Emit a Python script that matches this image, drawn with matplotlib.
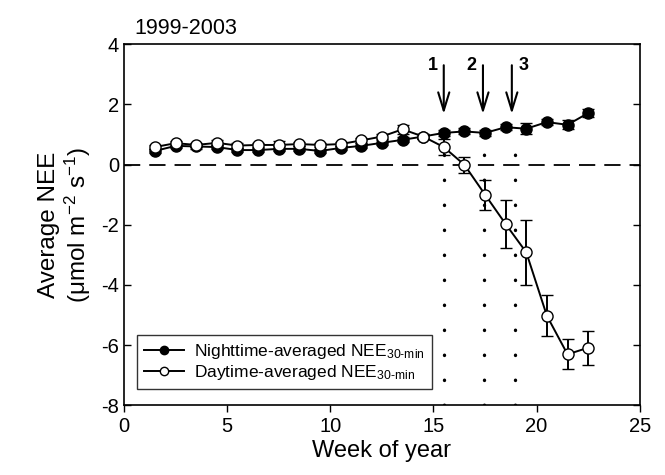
import matplotlib
matplotlib.use("Agg")
import matplotlib.pyplot as plt

plt.rcParams['font.family'] = ['Liberation Sans', 'DejaVu Sans']
plt.rcParams['mathtext.fontset'] = 'custom'
plt.rcParams['mathtext.rm'] = 'Liberation Sans'
plt.rcParams['mathtext.it'] = 'Liberation Sans'
plt.rcParams['axes.unicode_minus'] = False

weeks = [1.5, 2.5, 3.5, 4.5, 5.5, 6.5, 7.5, 8.5, 9.5, 10.5, 11.5,
         12.5, 13.5, 14.5, 15.5, 16.5, 17.5, 18.5, 19.5, 20.5, 21.5, 22.5]

night = [0.45, 0.62, 0.60, 0.58, 0.48, 0.48, 0.52, 0.52, 0.45, 0.55, 0.62,
         0.72, 0.82, 0.93, 1.05, 1.10, 1.05, 1.24, 1.19, 1.41, 1.32, 1.71]
night_err = [0.08, 0.08, 0.08, 0.08, 0.08, 0.08, 0.08, 0.08, 0.08, 0.08, 0.08,
             0.08, 0.08, 0.08, 0.10, 0.10, 0.10, 0.10, 0.18, 0.10, 0.15, 0.12]

day = [0.58, 0.71, 0.65, 0.72, 0.63, 0.65, 0.65, 0.68, 0.65, 0.68, 0.80,
       0.93, 1.17, 0.93, 0.58, -0.01, -1.00, -1.98, -2.92, -5.03, -6.31, -6.09]
day_err = [0.08, 0.08, 0.08, 0.08, 0.08, 0.08, 0.12, 0.08, 0.08, 0.08, 0.08,
           0.08, 0.15, 0.08, 0.26, 0.26, 0.50, 0.79, 1.07, 0.68, 0.50, 0.56]

# phase markers: dotted line x, top of dotted line, arrow x, label x
phase_labels = ['1', '2', '3']
phase_x = [15.5, 17.45, 18.95]
phase_top = [0.4, 0.5, 0.8]
arrow_x = [15.5, 17.4, 18.8]
label_x = [14.95, 16.85, 19.35]

fig = plt.figure(figsize=(6.65, 4.75), dpi=100)
ax = fig.add_axes([0.1865, 0.147, 0.7755, 0.76])

ax.axhline(0, color='black', lw=1.3, dashes=(9, 5), zorder=1)

for x, top in zip(phase_x, phase_top):
    ax.plot([x, x], [-8, top], color='black', lw=2.4,
            linestyle=(0, (0.1, 7.4)), dash_capstyle='round', zorder=1)

c_night = ax.errorbar(weeks, night, yerr=night_err, color='black', lw=1.4,
                      marker='o', markersize=8, markerfacecolor='black',
                      markeredgecolor='black', capsize=4, elinewidth=1.4,
                      zorder=3)
c_day = ax.errorbar(weeks, day, yerr=day_err, color='black', lw=1.4,
                    marker='o', markersize=8, markerfacecolor='white',
                    markeredgecolor='black', capsize=4, elinewidth=1.4,
                    zorder=4)

for lab, a_x, lx in zip(phase_labels, arrow_x, label_x):
    ax.annotate('', xy=(a_x, 1.68), xytext=(a_x, 3.3),
                arrowprops=dict(arrowstyle='->,head_length=1.3,head_width=0.4',
                                color='black', lw=1.5, shrinkA=0, shrinkB=0))
    ax.text(lx, 3.28, lab, fontsize=13, fontweight='bold',
            ha='center', va='center')

ax.set_xlim(0, 25)
ax.set_ylim(-8, 4)
ax.set_xticks([0, 5, 10, 15, 20, 25])
ax.set_yticks([-8, -6, -4, -2, 0, 2, 4])
ax.tick_params(axis='x', direction='out', length=5, labelsize=14.5, width=1)
ax.tick_params(axis='y', direction='in', length=5, labelsize=14.5, width=1,
               right=True)
for s in ax.spines.values():
    s.set_linewidth(1.2)

ax.set_xlabel('Week of year', fontsize=17, labelpad=3)
ax.set_ylabel('Average NEE\n($\\mu$mol m$^{-2}$ s$^{-1}$)', fontsize=17.5,
              linespacing=1.1, labelpad=6)
ax.set_title('1999-2003', fontsize=15.5, loc='left', x=0.02, pad=7)

leg = ax.legend([c_night[0], c_day[0]],
                ['Nighttime-averaged NEE$_{\\mathrm{30\\text{-}min}}$',
                 'Daytime-averaged NEE$_{\\mathrm{30\\text{-}min}}$'],
                loc='lower left', fontsize=12.5, frameon=True, fancybox=False,
                edgecolor='black', handlelength=2.3, borderpad=0.4,
                labelspacing=0.15, handletextpad=0.6, markerscale=0.75,
                borderaxespad=0, bbox_to_anchor=(0.025, 0.044))
leg.get_frame().set_linewidth(1.0)

fig.savefig('out.png', dpi=100)
